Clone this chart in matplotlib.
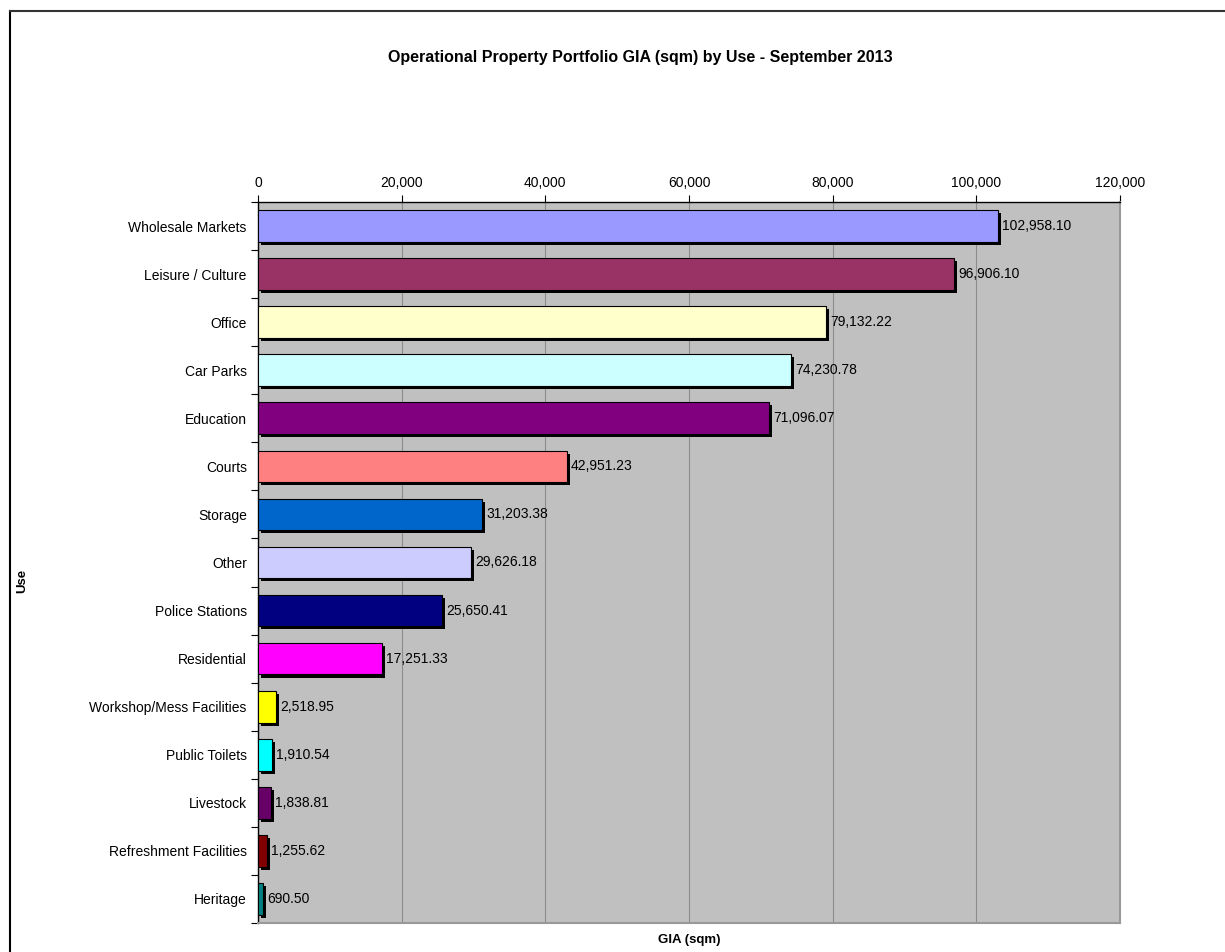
import matplotlib
matplotlib.use('Agg')
import matplotlib.pyplot as plt
import matplotlib.patheffects as pe
from matplotlib.lines import Line2D

# data
uses = ['Wholesale Markets', 'Leisure / Culture', 'Office', 'Car Parks', 'Education',
        'Courts', 'Storage', 'Other', 'Police Stations', 'Residential',
        'Workshop/Mess Facilities', 'Public Toilets', 'Livestock',
        'Refreshment Facilities', 'Heritage']
gia = [102958.10, 96906.10, 79132.22, 74230.78, 71096.07,
       42951.23, 31203.38, 29626.18, 25650.41, 17251.33,
       2518.95, 1910.54, 1838.81, 1255.62, 690.50]
bar_colors = ['#9999FF', '#993366', '#FFFFCC', '#CCFFFF', '#800080',
              '#FF8080', '#0066CC', '#CCCCFF', '#000080', '#FF00FF',
              '#FFFF00', '#00FFFF', '#660066', '#800000', '#008080']
x_ticks = [0, 20000, 40000, 60000, 80000, 100000, 120000]

plt.rcParams['font.family'] = ['Liberation Sans', 'DejaVu Sans']

fig = plt.figure(figsize=(12.25, 9.52), dpi=100)
ax = fig.add_axes([0.2106, 0.0305, 0.9143 - 0.2106, 0.7878 - 0.0305])
ax.set_facecolor('#C0C0C0')

y = list(range(len(uses)))
bars = ax.barh(y, gia, height=0.66, color=bar_colors, edgecolor='black',
               linewidth=0.8, zorder=3)
for b in bars:
    b.set_path_effects([pe.SimplePatchShadow(offset=(2.2, -2.2), shadow_rgbFace='black', alpha=1.0),
                        pe.Normal()])

# value labels just right of each bar
for yi, v in zip(y, gia):
    ax.annotate(f'{v:,.2f}', xy=(v, yi), xytext=(3, 0), textcoords='offset points',
                va='center', ha='left', fontsize=10, zorder=4)

ax.set_xlim(0, 120000)
ax.set_ylim(len(uses) - 0.5, -0.5)
ax.set_xticks(x_ticks)
ax.set_xticklabels([f'{t:,}' for t in x_ticks], fontsize=10)
ax.xaxis.tick_top()
ax.tick_params(axis='x', direction='out', length=5, width=0.8, pad=4, color='black')
ax.grid(axis='x', color='#8C8C8C', linewidth=0.8, zorder=0)
ax.set_axisbelow(True)

ax.set_yticks(y)
ax.set_yticklabels(uses, fontsize=10)
ax.set_yticks([i - 0.5 for i in range(len(uses) + 1)], minor=True)
ax.tick_params(axis='y', which='major', length=0, pad=8)
ax.tick_params(axis='y', which='minor', length=5, width=0.8, direction='out')

for s in ['top', 'left']:
    ax.spines[s].set_color('black')
    ax.spines[s].set_linewidth(1.0)
for s in ['right', 'bottom']:
    ax.spines[s].set_color('#999999')
    ax.spines[s].set_linewidth(1.5)

ax.set_xlabel('GIA (sqm)', fontsize=9.5, fontweight='bold')
ax.xaxis.set_label_position('bottom')
ax.xaxis.labelpad = 8
fig.text(0.018, 0.39, 'Use', rotation=90, fontsize=9.5, fontweight='bold', va='center', ha='center')

fig.text(0.523, 0.94, 'Operational Property Portfolio GIA (sqm) by Use - September 2013',
         ha='center', va='center', fontsize=11.5, fontweight='bold')

# outer chart border (left and top edges visible)
fig.add_artist(Line2D([0.0082, 0.0082], [0, 0.9885], color='black', linewidth=1.5, transform=fig.transFigure))
fig.add_artist(Line2D([0.0082, 1.0], [0.9885, 0.9885], color='#333333', linewidth=1.5, transform=fig.transFigure))

fig.savefig('out.png', dpi=100)
